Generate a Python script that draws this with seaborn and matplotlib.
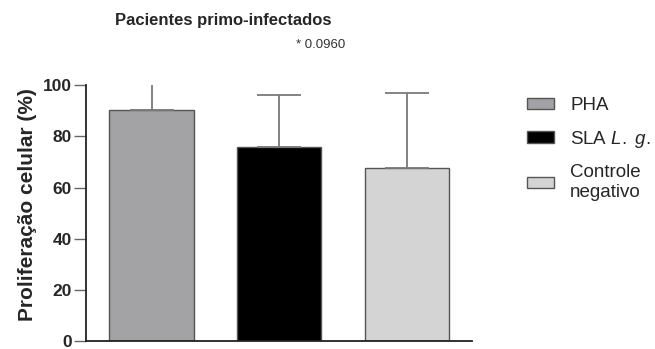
import numpy as np
import pandas as pd
import matplotlib
matplotlib.use("Agg")
import matplotlib.pyplot as plt
import seaborn as sns

sns.set_theme(style="ticks")
plt.rcParams["font.family"] = ["Liberation Sans", "DejaVu Sans"]
plt.rcParams["mathtext.fontset"] = "custom"
plt.rcParams["mathtext.it"] = "Liberation Sans:italic"
plt.rcParams["mathtext.rm"] = "Liberation Sans"

# Mean proliferation and upper SD per stimulus
groups = ["PHA", "SLA $\\it{L.}$ $\\it{g.}$", "Controle\nnegativo"]
means = [90.3, 75.9, 67.7]
sd_upper = [12.0, 20.2, 29.3]
colors = ["#a2a2a6", "#000000", "#d4d4d4"]
yticks = [0, 20, 40, 60, 80, 100]
pvalue_text = "* 0.0960"

df = pd.DataFrame({"grupo": groups, "prolif": means})

fig = plt.figure(figsize=(6.55, 3.49), dpi=100)
ax = fig.add_axes([86 / 655, 8 / 349, (471.7 - 86) / 655, (341 - 85.3) / 349])

sns.barplot(data=df, x="grupo", y="prolif", hue="grupo", palette=colors,
            width=0.66, edgecolor="#555555", linewidth=1.0, ax=ax,
            legend=False, errorbar=None)

xpos = np.arange(len(groups))
ax.errorbar(xpos, means, yerr=[np.zeros(len(means)), sd_upper], fmt="none",
            ecolor="#7a7a7a", elinewidth=1.3, capsize=15.5, capthick=1.3,
            zorder=1)

ax.set_xlim(-0.514, 2.507)
ax.set_ylim(0, 100)
ax.set_yticks(yticks)
ax.set_yticklabels([str(v) for v in yticks], fontweight="bold", fontsize=12.5)
ax.set_xticks([])
ax.set_xlabel("")
ax.set_ylabel("Proliferação celular (%)", fontsize=15, fontweight="bold")
ax.yaxis.set_label_coords(-0.128, 0.535)
sns.despine(ax=ax)
for s in ("left", "bottom"):
    ax.spines[s].set_linewidth(1.3)
    ax.spines[s].set_color("#222222")
ax.tick_params(axis="y", length=9, width=1.0, color="#666666", pad=1)

fig.text(223 / 655, 1 - 20 / 349, "Pacientes primo-infectados",
         ha="center", va="center", fontsize=12, fontweight="bold")
fig.text(321 / 655, 1 - 45 / 349, pvalue_text, ha="center", va="center",
         fontsize=9.5, color="#333333")

handles = [plt.Rectangle((0, 0), 1, 1, facecolor=c, edgecolor="#555555",
                         linewidth=1.0) for c in colors]
fig.legend(handles, groups, loc="upper left",
           bbox_to_anchor=(510 / 655, 1 - 80 / 349), frameon=False,
           fontsize=13.5, handlelength=1.45, handleheight=0.55,
           handletextpad=0.85, labelspacing=0.78)

fig.savefig("out.png", dpi=100)
